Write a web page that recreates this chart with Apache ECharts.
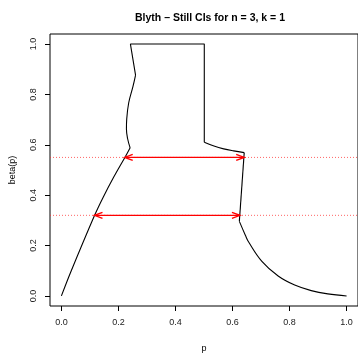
<!DOCTYPE html>
<html>
<head>
<meta charset="utf-8">
<script src="https://cdn.jsdelivr.net/npm/echarts@6/dist/echarts.min.js"></script>
<style>
  html, body { margin: 0; padding: 0; background: #fff; }
  #chart { width: 358px; height: 358px; }
</style>
</head>
<body>
<div id="chart"></div>
<script>
// tick labels
const tickValues = [0, 0.2, 0.4, 0.6, 0.8, 1.0];

// curve pieces (p, beta(p))
const lowP = [0.000, 0.031, 0.116, 0.147, 0.184, 0.222, 0.241];
const lowBeta = [0.000, 0.090, 0.319, 0.393, 0.473, 0.549, 0.588];

const bulgeP = [0.241, 0.232, 0.228, 0.229, 0.236, 0.251, 0.260];
const bulgeBeta = [0.588, 0.625, 0.663, 0.702, 0.767, 0.832, 0.877];

const boxP = [0.260, 0.242, 0.501, 0.501];
const boxBeta = [0.877, 1.000, 1.000, 0.610];

const shelfP = [0.501, 0.535, 0.569, 0.604, 0.641];
const shelfBeta = [0.610, 0.595, 0.584, 0.576, 0.569];

const dropP = [0.641, 0.624];
const dropBeta = [0.569, 0.296];

const tailP = [0.624, 0.645, 0.656, 0.703, 0.760, 0.818, 0.876, 0.934, 1.000];
const tailBeta = [0.296, 0.241, 0.215, 0.137, 0.079, 0.043, 0.021, 0.008, 0.000];

// horizontal reference levels and the arrows between the CI bounds
const levels = [0.55, 0.32];
const arrowLeft = [0.222, 0.116];
const arrowRight = [0.641, 0.626];

const zip = (xs, ys) => xs.map((x, i) => [x, ys[i]]);
const FONT = 'Liberation Sans, Arial, Helvetica, sans-serif';

const chart = echarts.init(document.getElementById('chart'));

const curveSeries = (xs, ys, smooth) => ({
  type: 'line',
  data: zip(xs, ys),
  showSymbol: false,
  smooth: smooth,
  lineStyle: { color: '#000', width: 1.1 },
  silent: true,
  z: 2
});

const option = {
  animation: false,
  title: {
    text: 'Blyth \u2013 Still CIs for n = 3, k = 1',
    left: 205,
    top: 8,
    textAlign: 'center',
    textStyle: { fontFamily: FONT, fontSize: 10.5, fontWeight: 'bold', color: '#000' }
  },
  grid: {
    left: 50,
    top: 34,
    width: 311,
    height: 278,
    show: true,
    borderColor: '#000',
    borderWidth: 1,
    backgroundColor: 'transparent'
  },
  xAxis: {
    type: 'value',
    min: -0.04,
    max: 1.04,
    name: 'p',
    nameLocation: 'middle',
    nameGap: 38,
    nameTextStyle: { fontFamily: FONT, fontSize: 9, color: '#000' },
    axisLine: { show: false, onZero: false },
    splitLine: { show: false },
    axisTick: { show: true, inside: false, length: 5, customValues: tickValues, lineStyle: { color: '#000' } },
    axisLabel: {
      customValues: tickValues,
      margin: 12,
      fontFamily: FONT, fontSize: 9, color: '#222',
      formatter: v => v.toFixed(1)
    }
  },
  yAxis: {
    type: 'value',
    min: -0.04,
    max: 1.04,
    name: 'beta(p)',
    nameLocation: 'middle',
    nameGap: 33,
    nameTextStyle: { fontFamily: FONT, fontSize: 9, color: '#000' },
    axisLine: { show: false, onZero: false },
    splitLine: { show: false },
    axisTick: { show: true, inside: false, length: 5, customValues: tickValues, lineStyle: { color: '#000' } },
    axisLabel: {
      customValues: tickValues,
      rotate: 90,
      margin: 12,
      fontFamily: FONT, fontSize: 9, color: '#222',
      formatter: v => v.toFixed(1)
    }
  },
  series: [
    curveSeries(lowP, lowBeta, 0.3),
    curveSeries(bulgeP, bulgeBeta, 0.4),
    curveSeries(boxP, boxBeta, false),
    curveSeries(shelfP, shelfBeta, 0.4),
    curveSeries(dropP, dropBeta, false),
    curveSeries(tailP, tailBeta, 0.4),
    {
      // dotted level line across the plot + double arrow between the bounds
      type: 'custom',
      silent: true,
      data: levels.map((y, i) => [arrowLeft[i], arrowRight[i], y]),
      encode: { x: [0, 1], y: 2 },
      renderItem: (params, api) => {
        const cs = params.coordSys;
        const a = api.coord([api.value(0), api.value(2)]);
        const b = api.coord([api.value(1), api.value(2)]);
        const len = 8, half = 3;
        const style = { stroke: '#ff0000', lineWidth: 1.4, fill: null };
        return {
          type: 'group',
          children: [
            {
              type: 'line',
              shape: { x1: cs.x, y1: a[1], x2: cs.x + cs.width, y2: a[1] },
              style: { stroke: '#ff3030', lineWidth: 1, lineDash: [1, 2], opacity: 0.75 }
            },
            { type: 'line', shape: { x1: a[0], y1: a[1], x2: b[0], y2: b[1] }, style: style },
            { type: 'polyline', shape: { points: [[a[0] + len, a[1] - half], [a[0], a[1]], [a[0] + len, a[1] + half]] }, style: style },
            { type: 'polyline', shape: { points: [[b[0] - len, b[1] - half], [b[0], b[1]], [b[0] - len, b[1] + half]] }, style: style }
          ]
        };
      },
      z: 4
    }
  ]
};

chart.setOption(option);
</script>
</body>
</html>
